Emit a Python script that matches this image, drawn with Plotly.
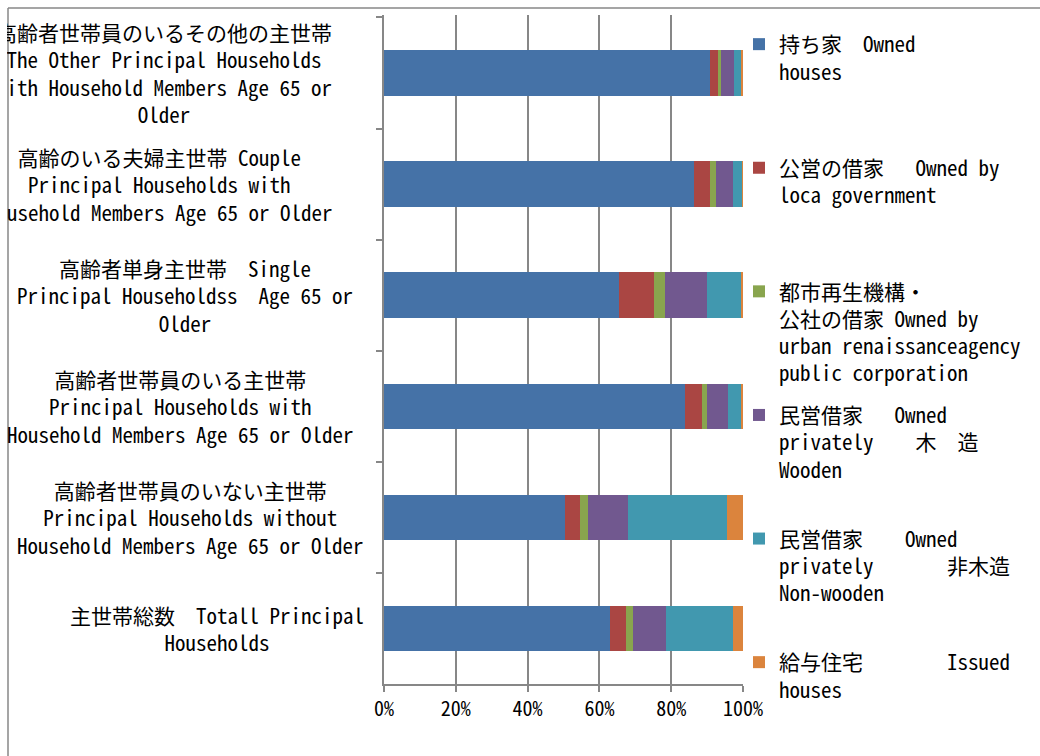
import plotly.graph_objects as go

NB = "\u00a0"

# Categories, top to bottom
CATEGORIES = [
    "高齢者世帯員のいるその他の主世帯<br>The Other Principal Households<br>with Household Members Age 65 or<br>Older",
    "高齢のいる夫婦主世帯 Couple<br>Principal Households with<br>Household Members Age 65 or Older",
    "高齢者単身主世帯" + NB * 2 + "Single<br>Principal Householdss" + NB * 2 + "Age 65 or<br>Older",
    "高齢者世帯員のいる主世帯<br>Principal Households with<br>Household Members Age 65 or Older",
    "高齢者世帯員のいない主世帯<br>Principal Households without<br>Household Members Age 65 or Older",
    "主世帯総数" + NB * 2 + "Totall Principal<br>Households",
]

SERIES_NAMES = [
    "持ち家" + NB * 2 + "Owned<br>houses",
    "公営の借家" + NB * 3 + "Owned by<br>loca government",
    "都市再生機構・<br>公社の借家 Owned by<br>urban renaissanceagency<br>public corporation",
    "民営借家" + NB * 3 + "Owned<br>privately" + NB * 4 + "木" + NB * 2 + "造<br>Wooden",
    "民営借家" + NB * 4 + "Owned<br>privately" + NB * 7 + "非木造<br>Non-wooden",
    "給与住宅" + NB * 8 + "Issued<br>houses",
]

# Percent shares per series (in category order, top to bottom)
owned = [90.8, 86.4, 65.5, 83.9, 50.5, 63.0]
local_gov = [2.3, 4.4, 9.7, 4.6, 4.1, 4.4]
urban_agency = [0.9, 1.8, 3.1, 1.6, 2.1, 2.0]
private_wooden = [3.5, 4.6, 11.6, 5.7, 11.3, 9.2]
private_nonwooden = [2.2, 2.6, 9.7, 3.9, 27.5, 18.5]
issued = [0.3, 0.2, 0.4, 0.3, 4.5, 2.9]

SERIES_VALUES = [owned, local_gov, urban_agency, private_wooden, private_nonwooden, issued]
COLORS = ["#4572A7", "#AA4643", "#89A54E", "#71588F", "#4198AF", "#DB843D"]

X_TICKS = [0, 20, 40, 60, 80, 100]
X_TICK_LABELS = ["0%", "20%", "40%", "60%", "80%", "100%"]

FONT = "Noto Sans Mono CJK JP, Noto Sans CJK JP, Liberation Mono, monospace"
GRAY = "#878787"

W, H = 1040, 756
L, R, T, B = 384, 297, 15, 72
PW = W - L - R
PH = H - T - B


def px_x(px):
    return (px - L) / PW


def px_y(py):
    return 1 - (py - T) / PH


fig = go.Figure()
max_lines = max(n.count("<br>") + 1 for n in SERIES_NAMES)
n_series = len(SERIES_NAMES)
for i, (name, vals, col) in enumerate(zip(SERIES_NAMES, SERIES_VALUES, COLORS)):
    pad = 0 if i == n_series - 1 else max_lines - (name.count("<br>") + 1)
    fig.add_trace(go.Bar(
        y=CATEGORIES, x=vals, orientation="h", name=name + ("<br>" + NB) * pad,
        marker=dict(color=col, line=dict(width=0)),
        legendgroup="g%d" % i,
    ))

label_centers = [164, 159, 185, 180, 190, 217]
annotations = []
for cat, cx in zip(CATEGORIES, label_centers):
    annotations.append(dict(
        text=cat, xref="paper", yref="y", x=px_x(cx), y=cat,
        xanchor="center", yanchor="middle", align="center", showarrow=False,
        font=dict(family=FONT, size=21, color="black"),
    ))
# cover so labels are clipped at the chart border, as in the original
annotations.append(dict(
    text=NB, xref="paper", yref="paper", x=px_x(7), y=0.5, xanchor="right",
    yanchor="middle", width=60, height=1000, bgcolor="white", borderwidth=0,
    borderpad=0, showarrow=False,
))

shapes = [
    dict(type="line", xref="paper", yref="paper", x0=px_x(8), x1=px_x(1100),
         y0=px_y(8), y1=px_y(8), line=dict(color=GRAY, width=1.5)),
    dict(type="line", xref="paper", yref="paper", x0=px_x(8), x1=px_x(8),
         y0=px_y(8), y1=px_y(800), line=dict(color=GRAY, width=1.5)),
]

fig.update_layout(
    width=W, height=H,
    margin=dict(l=L, r=R, t=T, b=B, pad=0),
    paper_bgcolor="white", plot_bgcolor="white",
    barmode="stack", bargap=0.59,
    font=dict(family=FONT, size=21, color="black"),
    xaxis=dict(
        range=[0, 100], tickmode="array", tickvals=X_TICKS, ticktext=X_TICK_LABELS,
        showgrid=True, gridcolor=GRAY, gridwidth=1.5,
        showline=True, linecolor=GRAY, linewidth=1.5,
        ticks="outside", ticklen=6, tickcolor=GRAY, tickwidth=1.5,
        tickfont=dict(family=FONT, size=20, color="black"),
        zeroline=False, fixedrange=True, ticklabelstandoff=0,
    ),
    yaxis=dict(
        type="category", autorange="reversed", showticklabels=False,
        ticks="outside", tickson="boundaries", ticklen=6, tickcolor=GRAY, tickwidth=1.5,
        showline=True, linecolor=GRAY, linewidth=1.5, showgrid=False, fixedrange=True,
    ),
    legend=dict(
        x=px_x(739), xanchor="left", y=px_y(24), yanchor="top",
        valign="top", tracegroupgap=11.4, traceorder="grouped",
        font=dict(family=FONT, size=21, color="black"),
        bgcolor="rgba(0,0,0,0)", maxheight=740,
    ),
    annotations=annotations,
    shapes=shapes,
    showlegend=True,
)

fig.write_html("out.html")
